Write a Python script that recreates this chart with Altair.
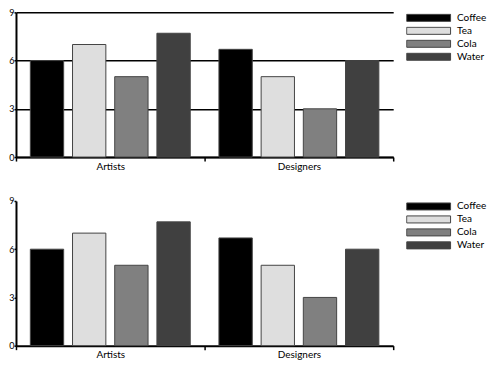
import altair as alt
import pandas as pd

groups = ["Artists", "Designers"]
drinks = ["Coffee", "Tea", "Cola", "Water"]
artists = [6, 7, 5, 7.7]
designers = [6.7, 5, 3, 6]
colors = ["#000000", "#dedede", "#808080", "#404040"]
y_ticks = [0, 3, 6, 9]

rows = []
for d, v in zip(drinks, artists):
    rows.append({"Group": "Artists", "Drink": d, "Value": v})
for d, v in zip(drinks, designers):
    rows.append({"Group": "Designers", "Drink": d, "Value": v})
df = pd.DataFrame(rows)

FONT = "Lato"


def panel(grid):
    return alt.Chart(df).mark_bar(stroke="#444444", strokeWidth=1).encode(
        x=alt.X("Group:N", sort=groups, title=None,
                scale=alt.Scale(paddingInner=0, paddingOuter=0),
                axis=alt.Axis(labelAngle=0, tickBand="extent", domainColor="black",
                              domainWidth=2, tickColor="black", tickWidth=1.5,
                              tickSize=4, labelPadding=0, labelFontSize=10,
                              labelFont=FONT, labelColor="black")),
        xOffset=alt.XOffset("Drink:N", sort=drinks,
                            scale=alt.Scale(paddingInner=0.21, paddingOuter=0.34)),
        y=alt.Y("Value:Q", title=None, scale=alt.Scale(domain=[0, 9]),
                axis=alt.Axis(values=y_ticks, grid=grid, gridColor="black",
                              gridWidth=1.5, gridOpacity=1, domainColor="black",
                              domainWidth=2, tickColor="black", tickWidth=1.5,
                              tickSize=2, labelPadding=0, labelFontSize=9,
                              labelFont=FONT, labelColor="black")),
        color=alt.Color("Drink:N", sort=drinks,
                        scale=alt.Scale(domain=drinks, range=colors),
                        legend=alt.Legend(title=None, orient="none", legendX=391,
                                          legendY=1,
                                          symbolType="M-1,-0.16L1,-0.16L1,0.16L-1,0.16Z",
                                          symbolSize=1936, symbolStrokeColor="#444444",
                                          symbolStrokeWidth=1, symbolOpacity=1,
                                          clipHeight=9, rowPadding=2, labelOffset=6,
                                          labelFontSize=10, labelFont=FONT,
                                          labelColor="black", padding=0)),
    ).properties(width=378, height=145)


chart = alt.vconcat(panel(True), panel(False), spacing=26).resolve_legend(
    color="independent"
).properties(
    padding={"left": 0, "top": 0, "right": 0, "bottom": 0}
).configure(
    font=FONT, view=alt.ViewConfig(strokeWidth=0)
)

chart.save("out.html", embed_options={"renderer": "svg", "actions": False})
